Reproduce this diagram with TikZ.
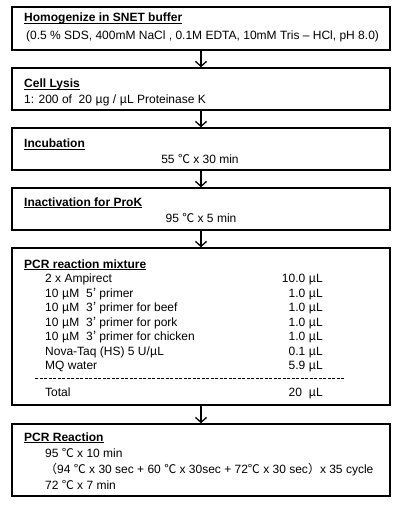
\documentclass[tikz,border=0pt]{standalone}
\usepackage{fontspec}
\setmainfont{Liberation Sans}
\newfontfamily\cjk{Noto Sans CJK JP}
\usetikzlibrary{arrows.meta}

\newcommand{\uu}{{\cjk μ}}
\newcommand{\degc}{{\cjk ℃}}
\newcommand{\steptitle}[1]{\bfseries\underline{\smash{#1}}}

\begin{document}
\begin{tikzpicture}[x=1pt, y=-1pt,
  stepbox/.style={draw, line width=1.4pt, minimum width=378pt, inner sep=0pt},
  flow/.style={line width=1.3pt, -{Straight Barb[length=5pt, width=11pt, line width=1.3pt]}},
  txt/.style={anchor=base west, inner sep=0pt, font=\fontsize{12}{14}\selectfont},
  val/.style={anchor=base east, inner sep=0pt, font=\fontsize{12}{14}\selectfont},
  mid/.style={anchor=base, inner sep=0pt, font=\fontsize{12}{14}\selectfont}]
\useasboundingbox (0, 0) rectangle (401, 505);

\node[stepbox, minimum height=43pt] (homog) at (201, 28.5) {};
\node[stepbox, minimum height=42pt] (lysis) at (201, 89) {};
\node[stepbox, minimum height=42pt] (incub) at (201, 149) {};
\node[stepbox, minimum height=42pt] (inact) at (201, 209) {};
\node[stepbox, minimum height=157pt] (mix) at (201, 326.5) {};
\node[stepbox, minimum height=72pt] (pcr) at (201, 460) {};

\draw[flow] (homog) -- (lysis);
\draw[flow] (lysis) -- (incub);
\draw[flow] (incub) -- (inact);
\draw[flow] (inact) -- (mix);
\draw[flow] (mix) -- (pcr);

\node[txt] (homogT) at (24, 22) {\steptitle{Homogenize in SNET buffer}};
\node[txt] (homogA) at (26, 40) {(0.5 \% SDS, 400mM NaCl , 0.1M EDTA, 10mM Tris -- HCl, pH 8.0)};

\node[txt] (lysisT) at (24, 88) {\steptitle{Cell Lysis}};
\node[txt] (lysisA) at (24, 104) {1: 200 of \ 20 \uu g / \uu L Proteinase K};

\node[txt] (incubT) at (24, 148) {\steptitle{Incubation}};
\node[mid] (incubA) at (200, 163) {55 \degc\ x 30 min};

\node[txt] (inactT) at (24, 206) {\steptitle{Inactivation for ProK}};
\node[mid] (inactA) at (201, 222) {95 \degc\ x 5 min};

\node[txt] (mixT) at (24, 268) {\steptitle{PCR reaction mixture}};
\foreach \i/\what/\much in {1/2 x Ampirect/10.0,
    2/10 \uu M\ \ 5{\cjk ’} primer/1.0,
    3/10 \uu M\ \ 3{\cjk ’} primer for beef/1.0,
    4/10 \uu M\ \ 3{\cjk ’} primer for pork/1.0,
    5/10 \uu M\ \ 3{\cjk ’} primer for chicken/1.0,
    6/{Nova-Taq (HS) 5 U/\uu L}/0.1,
    7/MQ water/5.9} {
  \node[txt] (row\i) at (45, 268+14.5*\i) {\what};
  \node[val] (amt\i) at (323, 268+14.5*\i) {\much\ \uu L};
}
\coordinate (dashL) at (35, 378);
\coordinate (dashR) at (345, 378);
\draw[line width=0.5pt, dash pattern=on 3pt off 1.5pt] (dashL) -- (dashR);
\node[txt] (total) at (45, 396) {Total};
\node[val] (totalA) at (323, 396) {20\ \ \uu L};

\node[txt] (pcrT) at (24, 441) {\steptitle{PCR Reaction}};
\node[txt] (pcrA) at (45, 457) {95 \degc\ x 10 min};
\node[txt] (pcrB) at (45, 473) {{\cjk （}94 \degc\ x 30 sec + 60 \degc\ x 30sec + 72\degc\ x 30 sec{\cjk ）}x 35 cycle};
\node[txt] (pcrC) at (45, 489) {72 \degc\ x 7 min};

\end{tikzpicture}
\end{document}
